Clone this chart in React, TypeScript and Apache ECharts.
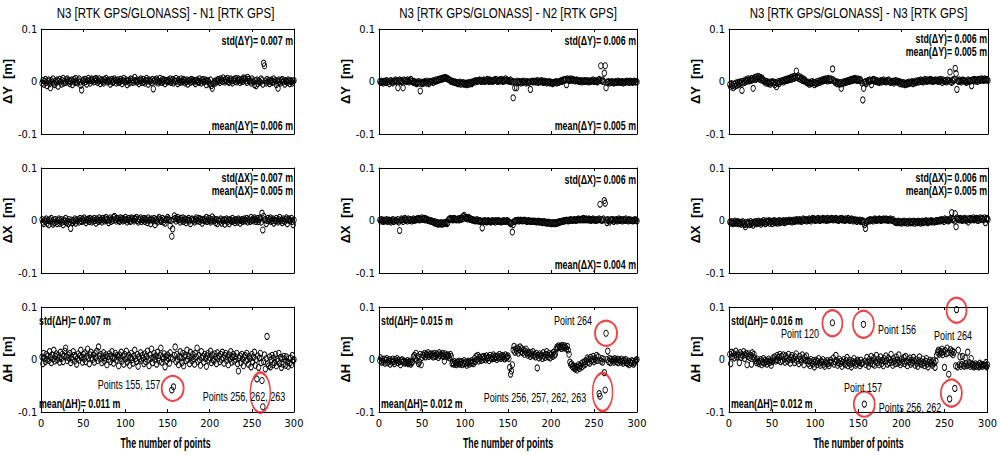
import React, { useEffect, useRef } from "react";
import * as echarts from "echarts";

// values in millimetres, index = point number (1..300)
const dY_N1 = [
  -3,2,-5,1,4,-2,-8,0,3,-4,-12,2,-1,5,-3,-6,1,-2,3,-9,0,4,-1,-5,2,6,-3,1,-2,3,
  5,-1,2,-4,0,3,-6,1,4,-2,6,0,-3,2,5,-1,-7,-16,1,3,-2,4,0,-5,2,6,1,-3,3,5,
  2,-1,4,0,6,3,-2,1,5,-4,2,3,0,-3,4,1,6,-1,2,0,3,-5,1,4,-2,0,5,2,-3,1,
  3,-2,0,4,1,-4,2,6,0,-1,3,-6,1,2,-3,5,0,4,-2,1,8,2,-1,3,0,-4,2,5,1,-2,
  4,0,-3,2,6,1,-5,3,0,2,-2,4,-14,1,3,-1,5,2,-3,0,6,1,-2,4,0,3,-4,2,1,-1,
  3,0,5,-2,1,4,-3,2,0,6,1,-4,3,0,-2,5,1,-1,4,2,-3,0,3,-5,1,2,-2,4,0,3,
  -1,2,-4,1,3,0,-2,5,1,-3,2,4,-1,0,3,-6,1,2,-2,-5,3,-8,-13,-4,-2,1,-3,2,0,4,
  1,-2,5,3,0,7,2,-1,4,1,6,0,-2,3,5,1,-3,2,4,0,6,-1,2,5,3,-2,1,4,0,7,
  3,6,1,-2,8,4,0,2,-3,5,1,-1,-6,2,-8,3,-4,1,0,-2,5,2,-5,35,30,1,-3,4,-1,2,
  -4,1,3,-2,0,5,-1,2,-6,1,-13,3,0,-3,2,4,-1,1,-5,2,0,-2,3,1,-4,2,0,-3,1,2,
];
const dX_N1 = [
  2,-3,-6,1,-2,3,-5,0,-8,2,-1,4,-3,-7,1,-4,2,-2,-6,0,3,-5,-1,2,-3,-8,1,-2,4,-4,
  -1,-6,2,-3,-15,1,-4,0,-2,3,-5,1,-1,2,-3,4,0,-2,3,-1,5,1,-4,2,0,3,-2,4,1,-3,
  2,-1,4,0,-5,3,1,-2,5,0,2,-3,4,1,-1,3,6,0,2,-4,1,5,-2,3,0,6,8,2,-1,4,
  3,0,-2,5,1,4,-1,3,0,6,2,-3,1,4,0,-2,5,3,1,-1,4,2,6,0,-3,3,1,5,-2,2,
  0,4,-2,3,1,-4,5,0,2,-6,3,1,-1,4,-8,2,0,-3,3,6,1,-2,0,4,-3,2,-5,1,2,6,
  3,1,-10,0,-30,-16,2,9,4,-1,3,6,1,2,-3,4,0,5,-2,1,3,-4,2,0,4,-1,-6,2,3,0,
  1,-3,2,5,-1,0,4,-2,3,1,-5,2,0,3,-1,6,-2,1,4,0,-3,2,7,-1,3,0,-4,2,-6,1,
  0,-2,3,-5,1,-1,2,-7,0,3,-3,1,-6,2,0,-2,4,-1,1,-4,2,0,-3,3,1,-5,0,2,-2,1,
  3,-1,0,4,-3,2,1,-2,6,0,3,-1,5,2,-2,1,4,-2,2,5,-3,14,-18,8,1,2,-6,0,4,-1,
  2,5,-2,0,3,-5,1,-1,4,0,-3,2,6,-1,1,-4,3,0,-2,2,5,-6,1,3,-1,0,4,-2,-8,1,
];
const dH_N1 = [
  5,-8,12,3,-4,10,0,7,-2,15,4,-6,9,1,18,-3,6,11,-1,8,3,-5,14,2,10,-4,7,16,22,5,
  -2,9,3,12,-6,4,0,15,8,-3,6,-9,2,11,-1,7,18,4,-5,10,1,13,-4,6,20,2,-8,9,14,3,
  0,8,-5,12,4,16,-2,24,7,1,10,-6,5,13,-3,3,9,-10,6,0,11,-4,7,15,2,-7,4,12,-1,8,
  5,-12,9,2,14,-3,6,-9,10,1,16,-5,3,8,-11,4,12,0,-7,7,18,2,-4,10,-13,5,1,13,-2,8,
  3,-8,11,-4,6,16,0,-12,9,2,20,-6,4,12,-1,7,-9,14,3,-3,8,22,-5,5,1,11,-14,6,-2,9,
  2,-7,13,4,-58,1,-52,8,24,-4,10,0,-10,6,15,3,-6,12,-12,5,9,-2,18,0,7,-8,14,4,-3,10,
  1,-9,12,5,22,-4,8,0,-11,15,3,6,-5,10,2,-13,7,12,-1,4,16,-6,9,0,-3,11,5,-8,13,2,
  7,-4,10,0,14,3,-7,8,12,-2,5,-10,9,1,15,-5,4,10,-3,6,0,12,-8,-22,3,7,-6,10,1,-12,
  5,8,-3,12,0,-9,6,2,-14,10,-5,4,14,-11,0,-37,7,-15,3,12,-6,-40,-90,-4,9,-18,2,44,-8,-12,
  5,-14,0,8,-10,3,-6,10,-12,1,-3,12,-8,4,-15,2,-9,6,0,-11,5,-4,-13,2,-7,3,-10,8,-2,0,
];
const dY_N2 = [
  0,-2,1,-1,-3,0,1,-2,2,-1,0,-4,1,2,-1,-3,0,1,3,0,2,-12,1,3,0,2,-1,-12,3,1,
  2,0,3,1,-1,2,4,0,1,-2,0,-3,-1,-4,-2,0,-3,-18,-1,-4,-2,-3,0,-1,-3,1,-2,-4,0,-1,
  0,1,-2,2,0,3,1,2,4,3,5,4,6,5,7,6,8,7,6,5,4,3,2,0,1,-1,0,-2,-1,-3,
  -2,-4,-3,-1,-5,-3,-4,-2,-5,-4,-3,-6,-4,-2,-5,-3,-1,-4,-2,0,1,-1,2,0,1,2,3,1,0,2,
  1,3,0,2,1,4,2,0,3,1,2,0,1,3,2,4,1,0,2,3,1,4,2,0,3,1,5,2,3,1,
  2,0,3,1,-1,-31,0,-12,-1,-12,1,-2,0,-1,-3,0,-2,1,-1,0,-3,-1,0,-2,-1,-15,0,1,-1,0,
  1,-1,0,2,-2,0,1,-1,2,0,-2,1,-1,0,-3,-1,-2,0,-3,-1,-2,-4,-3,-1,-2,0,-3,-1,-2,0,
  1,2,0,3,2,4,3,-6,5,3,4,2,5,3,4,2,3,1,2,3,1,2,0,1,2,-1,1,0,2,1,
  0,2,1,-1,1,0,2,1,3,0,1,2,0,-1,1,4,2,30,1,3,0,16,30,-12,-1,-2,0,-3,-1,-2,
  0,-1,-3,-2,0,-1,-2,1,-1,0,-2,-1,0,-3,-1,-2,0,1,-1,0,-2,1,0,-1,-2,0,1,-1,0,-1,
];
const dX_N2 = [
  1,-1,2,0,-2,1,-1,0,2,-2,0,1,-1,-3,0,2,-2,-1,1,0,-1,2,-3,-19,0,3,1,-2,2,4,
  0,2,-1,3,1,0,2,-1,1,3,0,2,1,3,2,4,1,3,2,5,3,2,4,1,3,2,0,1,-1,0,
  -2,-1,-3,-4,-2,-5,-6,-4,-7,-5,-6,-4,-7,-5,-6,-4,-5,-3,-6,-4,2,3,4,2,3,1,4,2,3,1,
  2,3,1,4,2,5,3,8,10,6,4,5,3,6,4,2,3,1,2,0,1,-1,0,2,-1,-1,0,-2,-1,-14,
  -1,-2,0,-1,-3,-2,0,-1,-2,-3,-1,0,-2,-1,-3,0,-1,-2,0,-1,-2,-3,-1,-2,0,-1,-2,-1,0,-1,
  -3,-4,-6,-5,-22,-8,-2,-1,0,-1,0,1,-1,0,1,0,-1,0,1,0,-1,-2,-1,0,-1,-2,-1,-2,-1,-2,
  -1,-2,-3,-2,-1,-3,-2,-3,-2,-4,-3,-2,-4,-3,-5,-4,-3,-5,-4,-6,-5,-4,-6,-5,-4,-6,-5,-3,-4,-2,
  -3,-2,-1,-2,0,-1,0,1,0,-1,1,0,2,1,0,1,2,1,0,2,1,3,2,1,2,3,1,4,2,1,
  3,2,1,3,2,0,2,1,3,1,2,0,1,2,1,3,31,2,0,1,3,38,33,1,-4,2,0,-3,1,2,
  0,2,-2,1,0,2,-1,1,3,0,2,1,-1,2,0,1,3,0,1,-1,2,0,1,0,-1,1,0,2,0,-1,
];
const dH_N2 = [
  -2,3,-5,0,-4,1,-7,-1,2,-6,-3,0,-9,-2,-5,1,-4,-8,0,-3,2,-6,-1,-4,-10,-2,0,-5,-3,-7,
  -4,-6,-2,-8,-5,-3,-9,-6,-4,5,8,2,12,-2,6,-8,-5,10,-10,4,9,7,12,5,10,8,13,6,9,11,
  7,10,5,12,8,6,11,9,4,13,7,10,8,12,6,-3,11,8,5,9,7,3,10,6,-8,-6,-9,-4,-7,-10,
  -5,-8,-3,-9,-6,-4,-10,-7,-2,-8,-5,-11,-6,-3,-9,-4,-7,-2,-5,-8,2,-4,6,0,8,-3,4,1,-2,5,
  0,6,3,-1,7,2,4,-2,8,3,1,5,9,2,6,4,0,7,3,10,5,2,8,4,6,1,9,3,5,7,
  2,-15,-28,-22,-10,18,25,14,20,16,22,12,19,24,15,21,13,18,10,16,20,12,8,14,11,6,13,9,15,7,
  10,5,12,-16,8,3,11,6,9,2,13,7,4,10,15,8,5,12,3,9,11,6,14,8,10,20,24,22,26,23,
  25,21,27,24,22,26,23,20,25,18,10,-5,-10,-8,-14,-12,-16,-18,-13,-20,-15,-10,-17,-12,-8,-14,-6,-11,-4,-9,
  -2,3,-5,1,-7,4,-3,0,6,-4,2,-1,8,-2,5,-65,-70,-3,2,-5,1,-25,-58,50,0,16,-4,2,-6,1,
  -3,0,-5,2,-1,-4,1,-6,0,-2,-5,1,-3,-7,-1,-4,0,-6,-8,-3,-10,-5,-7,-2,-4,-9,-6,-3,-1,0,
];
const dY_N3 = [
  -6,-10,-4,-8,-12,-5,-9,-3,-7,-2,-6,-1,-4,0,-17,-3,1,-2,3,0,2,5,1,4,2,6,3,-13,5,8,
  4,9,6,10,5,8,3,7,4,2,-1,1,-3,0,-2,-4,-1,-5,-2,0,-3,-1,-6,-2,-10,-3,0,-4,-1,1,
  0,2,-1,3,1,4,2,5,3,6,4,8,5,9,6,10,7,20,8,11,6,9,4,7,2,5,1,3,0,-2,
  -3,-1,-5,-2,-4,0,-3,-1,-6,-2,-4,0,-3,1,-2,2,0,3,1,4,2,5,3,1,6,4,2,5,3,24,
  3,1,-2,0,-4,-1,-3,-5,-2,-13,-4,-1,-3,0,-2,1,-1,2,0,3,1,4,2,5,3,6,4,2,5,3,
  2,4,1,-3,-35,-13,-2,0,-4,-1,2,0,3,1,-6,2,4,1,3,0,2,-1,1,-2,0,2,-1,1,3,0,
  1,-1,2,0,3,1,-2,0,-1,1,-3,0,2,-1,1,-2,0,-4,-1,-3,-5,-2,-4,-6,-3,-5,-2,-4,-1,-3,
  -2,0,-4,-1,-3,1,-2,0,2,-1,1,3,0,2,-1,1,4,2,0,3,1,2,4,1,3,0,2,1,3,2,
  1,3,0,2,4,1,-2,3,1,0,2,-1,3,1,2,18,0,-2,3,1,4,25,15,-15,2,0,3,1,-1,2,
  3,1,2,0,-2,1,3,0,2,1,-8,3,2,4,1,3,2,0,4,3,2,5,3,4,2,5,3,4,3,2,
];
const dX_N3 = [
  -3,-5,-2,-4,-6,-3,-1,-5,-4,-2,-6,-3,-5,-7,-4,-2,-6,-8,-12,-4,-7,-3,-5,-8,-2,-6,-4,-9,-3,-5,
  -2,-6,-4,-1,-5,-3,-7,-2,-4,0,-3,-6,-1,-4,-2,0,-5,-1,-3,-6,-2,0,-4,-1,-3,-5,-2,0,-4,-1,
  -3,-2,0,-4,-1,-3,0,-2,-1,1,-2,0,-3,-1,1,-2,0,2,-1,1,-1,2,0,-2,1,3,0,2,1,-1,
  2,0,3,1,-1,2,4,1,3,0,2,1,4,2,0,3,1,2,4,1,3,2,0,4,2,1,3,2,4,3,
  1,3,2,4,1,2,0,3,2,4,1,3,2,0,3,1,2,4,1,0,2,3,1,-1,2,0,1,-2,1,0,
  -1,1,-2,0,-3,-1,-8,-15,-4,-2,0,1,-1,2,0,1,-1,2,3,1,0,2,1,3,2,0,2,1,3,2,
  1,3,2,0,2,1,3,1,0,2,-1,-3,-2,-4,-3,-1,-4,-2,-3,-5,-2,-3,-1,-4,-3,-2,-5,-3,-1,-4,
  -2,-4,-3,-1,-5,-2,-3,-4,-1,-3,-2,-5,-3,-1,-4,-2,-3,0,-2,-4,-1,-3,-2,0,-3,-1,-2,-3,-1,0,
  -2,0,-1,1,-1,2,0,1,-2,3,1,2,0,-1,2,1,4,15,3,2,-1,13,-12,5,2,3,1,4,2,0,
  3,1,4,2,0,3,-3,2,4,1,3,2,5,1,3,2,4,0,3,1,5,2,4,3,1,5,-4,3,4,2,
];
const dH_N3 = [
  10,-8,14,6,12,3,9,16,5,11,8,-6,13,4,10,7,15,2,9,12,-10,6,11,4,8,-9,13,5,10,2,
  -2,-6,1,-4,-8,-3,0,-10,-5,2,-7,-1,-4,-9,-3,1,-6,-2,-11,-4,3,-1,5,-3,0,8,-2,4,10,-4,
  6,-2,9,1,-5,7,3,-3,10,0,-7,4,8,-1,2,-6,5,11,-3,1,-8,6,0,-4,9,2,-10,4,-2,7,
  -1,-8,-3,-12,0,-6,-9,-2,-14,-5,-1,-10,-4,2,-7,-11,-3,-6,0,-9,-13,-4,-7,-2,-8,-12,-5,-1,-6,70,
  3,-9,-4,8,-2,-11,-6,1,-8,-3,-13,-5,0,-7,-10,-2,4,-12,-6,-1,-9,-14,-3,-7,2,-5,-11,-8,-1,-4,
  -6,-12,-1,-8,-6,67,-85,-3,-10,4,-5,-13,0,-7,6,-2,-9,3,-11,-4,8,-6,1,-10,-3,5,-8,-1,-12,2,
  -4,7,-2,-9,3,-6,0,10,-5,-11,2,-3,-8,5,-1,-7,9,-4,-10,1,-6,-2,4,-8,6,-3,-12,0,-5,3,
  -9,-1,-6,4,-3,-11,0,-7,-13,-2,5,-8,-4,-10,1,-6,-12,-3,2,-9,-14,-5,-1,-8,-4,-11,-2,-7,-15,-3,
  8,14,18,10,16,12,20,9,15,-15,17,11,22,13,-28,-75,19,12,16,9,14,-55,-12,95,-14,18,-10,5,-13,-9,
  6,-11,-13,3,-8,-12,14,-10,-6,-13,2,-11,-9,-14,-12,-8,-13,-10,-11,-14,-7,-12,-9,-13,-10,-11,-8,-12,-14,-10,
];

const columnTitles = [
  "N3 [RTK GPS/GLONASS] - N1 [RTK GPS]",
  "N3 [RTK GPS/GLONASS] - N2 [RTK GPS]",
  "N3 [RTK GPS/GLONASS] - N3 [RTK GPS]",
];
const rowNames = ["\u0394Y  [m]", "\u0394X  [m]", "\u0394H  [m]"];
const xTicks = { min: 0, max: 300, interval: 50 };
const yTicks = { min: -0.1, max: 0.1, interval: 0.1 };
const xAxisName = "The number of points";

const panelData = [
  [dY_N1, dY_N2, dY_N3],
  [dX_N1, dX_N2, dX_N3],
  [dH_N1, dH_N2, dH_N3],
];
const stdTexts = [
  ["std(\u0394Y)= 0.007 m", "std(\u0394Y)= 0.006 m", "std(\u0394Y)= 0.006 m"],
  ["std(\u0394X)= 0.007 m", "std(\u0394X)= 0.006 m", "std(\u0394X)= 0.006 m"],
  ["std(\u0394H)= 0.007 m", "std(\u0394H)= 0.015 m", "std(\u0394H)= 0.016 m"],
];
const meanTexts = [
  ["mean(\u0394Y)= 0.006 m", "mean(\u0394Y)= 0.005 m", "mean(\u0394Y)= 0.005 m"],
  ["mean(\u0394X)= 0.005 m", "mean(\u0394X)= 0.004 m", "mean(\u0394X)= 0.005 m"],
  ["mean(\u0394H)= 0.011 m", "mean(\u0394H)= 0.012 m", "mean(\u0394H)= 0.012 m"],
];
// red ellipses around outliers: [point, value (m), width px, height px]
const outlierRings = [
  [[156, -0.055, 22, 25], [260, -0.063, 20, 40]],
  [[264, 0.05, 22, 25], [260, -0.062, 20, 38]],
  [[120, 0.069, 20, 26], [156, 0.067, 21, 27], [264, 0.094, 20, 25], [157, -0.085, 21, 25], [258, -0.064, 21, 27]],
];
const outlierLabels = [
  [["Points 155, 157", 129, 384], ["Points 256, 262, 263", 244, 396]],
  [["Point 264", 573, 320], ["Points 256, 257, 262, 263", 535, 397]],
  [["Point 120", 800, 333], ["Point 156", 897, 329], ["Point 264", 953, 335], ["Point 157", 863, 387], ["Points 256, 262", 910, 407]],
];

const FONT = "'Liberation Sans', Arial, sans-serif";
const AXFONT = "'Liberation Sans Narrow','DejaVu Sans Condensed','Liberation Sans',sans-serif";
const colLeft = [37, 379, 729];
const colWidth = [257, 258, 259];
const rowTop = [29, 168, 307];
const rowHeight = [105, 105, 105];

export default function App() {
  const ref = useRef<HTMLDivElement>(null);
  useEffect(() => {
    if (!ref.current) return;
    const chart = echarts.init(ref.current, undefined, { renderer: "svg" });
    const grid: any[] = [];
    const xAxis: any[] = [];
    const yAxis: any[] = [];
    const series: any[] = [];
    const graphic: any[] = [];
    const axisLine = { show: true, onZero: false, lineStyle: { color: "#000", width: 1 } };
    const tick = { show: true, inside: true, length: 3, lineStyle: { color: "#000", width: 1 } };
    const txt = (text: string, x: number, y: number, font: string, align: string, sx: number) => ({
      type: "text",
      x,
      y,
      scaleX: sx,
      z: 50,
      silent: true,
      style: { text, font, fill: "#000", align, verticalAlign: "middle" },
    });

    for (let r = 0; r < 3; r++) {
      for (let c = 0; c < 3; c++) {
        const k = r * 3 + c;
        grid.push({ left: colLeft[c], top: rowTop[r], width: colWidth[c], height: rowHeight[r], containLabel: false });
        const base = { gridIndex: k, type: "value", ...xTicks, splitLine: { show: false }, axisLine, axisTick: tick };
        xAxis.push({
          ...base,
          position: "bottom",
          axisLabel: { show: r === 2, color: "#000", fontSize: 11, fontFamily: AXFONT, margin: 6 },
        });
        xAxis.push({ ...base, position: "top", axisLabel: { show: false } });
        const ybase = { gridIndex: k, type: "value", ...yTicks, splitLine: { show: false }, axisLine, axisTick: tick };
        yAxis.push({
          ...ybase,
          position: "left",
          axisLabel: { color: "#000", fontSize: 11, fontFamily: AXFONT, margin: 4 },
          name: rowNames[r],
          nameLocation: "middle",
          nameRotate: 90,
          nameGap: 9,
          nameTextStyle: { color: "#000", fontSize: 13, fontWeight: "bold", fontFamily: FONT },
        });
        yAxis.push({ ...ybase, position: "right", axisLabel: { show: false } });

        series.push({
          type: "scatter",
          xAxisIndex: 2 * k,
          yAxisIndex: 2 * k,
          symbol: "circle",
          symbolSize: [4.5, 6],
          silent: true,
          itemStyle: { color: "rgba(255,255,255,0)", borderColor: "#000", borderWidth: 0.9, opacity: 1 },
          data: panelData[r][c].map((v, i) => [i + 1, v / 1000]),
        });

        const right = colLeft[c] + colWidth[c] - 1;
        const left = colLeft[c] + 2;
        const top = rowTop[r];
        const bottom = rowTop[r] + rowHeight[r];
        const bold = `bold 13px ${FONT}`;
        const sx = 0.68;
        if (r === 2) {
          graphic.push(txt(stdTexts[r][c], left, top + 13, bold, "left", sx));
          graphic.push(txt(meanTexts[r][c], left, bottom - 9, bold, "left", sx));
        } else if ((r === 1 && c === 0) || (r === 0 && c === 2) || (r === 1 && c === 2)) {
          graphic.push(txt(stdTexts[r][c], right, top + 9, bold, "right", sx));
          graphic.push(txt(meanTexts[r][c], right, top + 22, bold, "right", sx));
        } else {
          graphic.push(txt(stdTexts[r][c], right, top + 11, bold, "right", sx));
          graphic.push(txt(meanTexts[r][c], right, bottom - 9, bold, "right", sx));
        }
      }
    }
    for (let c = 0; c < 3; c++) {
      const cx = colLeft[c] + colWidth[c] / 2;
      graphic.push(txt(columnTitles[c], cx, 13, `14px ${FONT}`, "center", 0.82));
      graphic.push(txt(xAxisName, cx, 443, `bold 14px ${FONT}`, "center", 0.63));
      const k = 6 + c;
      series.push({
        type: "scatter",
        xAxisIndex: 2 * k,
        yAxisIndex: 2 * k,
        symbol: "circle",
        silent: true,
        z: 5,
        itemStyle: { color: "rgba(255,255,255,0)", borderColor: "#e8141b", borderWidth: 2 },
        data: outlierRings[c].map((o) => ({ value: [o[0], o[1]], symbolSize: [o[2], o[3]] })),
      });
      outlierLabels[c].forEach((l) => {
        graphic.push(txt(l[0] as string, l[1] as number, l[2] as number, `12px ${FONT}`, "center", 0.75));
      });
    }

    chart.setOption({
      animation: false,
      backgroundColor: "#fff",
      grid,
      xAxis,
      yAxis,
      series,
      graphic,
    });
    return () => chart.dispose();
  }, []);
  return <div ref={ref} style={{ position: "fixed", left: 0, top: 0, width: 1000, height: 455 }} />;
}
